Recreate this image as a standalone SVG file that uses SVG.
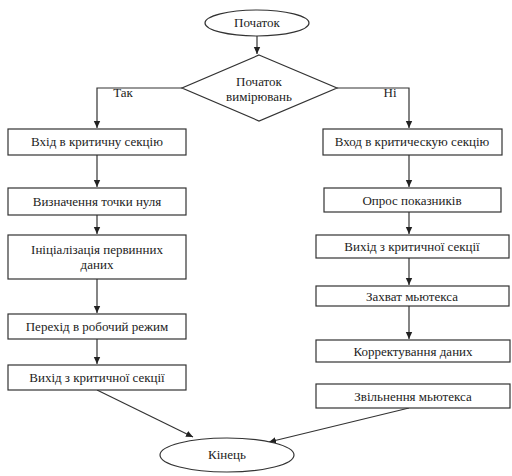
<svg xmlns="http://www.w3.org/2000/svg" width="512" height="476" viewBox="0 0 512 476">
<defs>
<marker id="arr" markerWidth="8" markerHeight="8" refX="7" refY="4" orient="auto" markerUnits="userSpaceOnUse">
<path d="M0,0.8 L7,4 L0,7.2 Z" fill="#222"/>
</marker>
<style>
.s{fill:#fff;stroke:#333;stroke-width:1.2}
.t{font-family:"Liberation Serif","Times New Roman",serif;font-size:13px;fill:#222;text-anchor:middle}
.c{fill:none;stroke:#333;stroke-width:1.2}
</style>
</defs>
<rect width="512" height="476" fill="#fff"/>
<g id="connectors">
<path class="c" d="M257,36 V54" marker-end="url(#arr)"/>
<path class="c" d="M182,88 H97 V128" marker-end="url(#arr)"/>
<path class="c" d="M337,88 H409 V128" marker-end="url(#arr)"/>
<path class="c" d="M97,155 V187" marker-end="url(#arr)"/>
<path class="c" d="M97,215 V234" marker-end="url(#arr)"/>
<path class="c" d="M97,279 V313" marker-end="url(#arr)"/>
<path class="c" d="M97,339 V364" marker-end="url(#arr)"/>
<path class="c" d="M97,390 L193,437" marker-end="url(#arr)"/>
<path class="c" d="M409,155 V187" marker-end="url(#arr)"/>
<path class="c" d="M409,212 V234" marker-end="url(#arr)"/>
<path class="c" d="M409,258 V285" marker-end="url(#arr)"/>
<path class="c" d="M409,306 V339" marker-end="url(#arr)"/>
<path class="c" d="M409,408 L269,442" marker-end="url(#arr)"/>
<text class="t" x="123" y="97">Так</text>
<text class="t" x="390" y="97">Ні</text>
</g>
<g id="start">
<ellipse class="s" cx="257" cy="23" rx="52" ry="13"/>
<text class="t" x="257" y="27">Початок</text>
</g>
<g id="decision">
<polygon class="s" points="259,55 337,88 259,121 182,88"/>
<text class="t" x="259" y="86">Початок</text>
<text class="t" x="259" y="101">вимірювань</text>
</g>
<g id="l1">
<rect class="s" x="8" y="129" width="178" height="26"/>
<text class="t" x="97" y="146">Вхід в критичну секцію</text>
</g>
<g id="l2">
<rect class="s" x="8" y="188" width="178" height="27"/>
<text class="t" x="97" y="206">Визначення точки нуля</text>
</g>
<g id="l3">
<rect class="s" x="8" y="235" width="178" height="44"/>
<text class="t" x="97" y="254">Ініціалізація первинних</text>
<text class="t" x="97" y="269">даних</text>
</g>
<g id="l4">
<rect class="s" x="8" y="314" width="178" height="25"/>
<text class="t" x="97" y="331">Перехід в робочий режим</text>
</g>
<g id="l5">
<rect class="s" x="8" y="365" width="178" height="25"/>
<text class="t" x="97" y="382">Вихід з критичної секції</text>
</g>
<g id="r1">
<rect class="s" x="323" y="129" width="179" height="26"/>
<text class="t" x="412" y="146">Вход в критическую секцію</text>
</g>
<g id="r2">
<rect class="s" x="324" y="188" width="177" height="24"/>
<text class="t" x="412" y="205">Опрос показників</text>
</g>
<g id="r3">
<rect class="s" x="316" y="235" width="193" height="23"/>
<text class="t" x="412" y="251">Вихід з критичної секції</text>
</g>
<g id="r4">
<rect class="s" x="316" y="286" width="193" height="20"/>
<text class="t" x="412" y="301">Захват мьютекса</text>
</g>
<g id="r5">
<rect class="s" x="316" y="340" width="194" height="22"/>
<text class="t" x="413" y="356">Корректування даних</text>
</g>
<g id="r6">
<rect class="s" x="316" y="384" width="194" height="24"/>
<text class="t" x="413" y="401">Звільнення мьютекса</text>
</g>
<g id="end">
<ellipse class="s" cx="227" cy="455" rx="67" ry="17"/>
<text class="t" x="227" y="459">Кінець</text>
</g>
</svg>
